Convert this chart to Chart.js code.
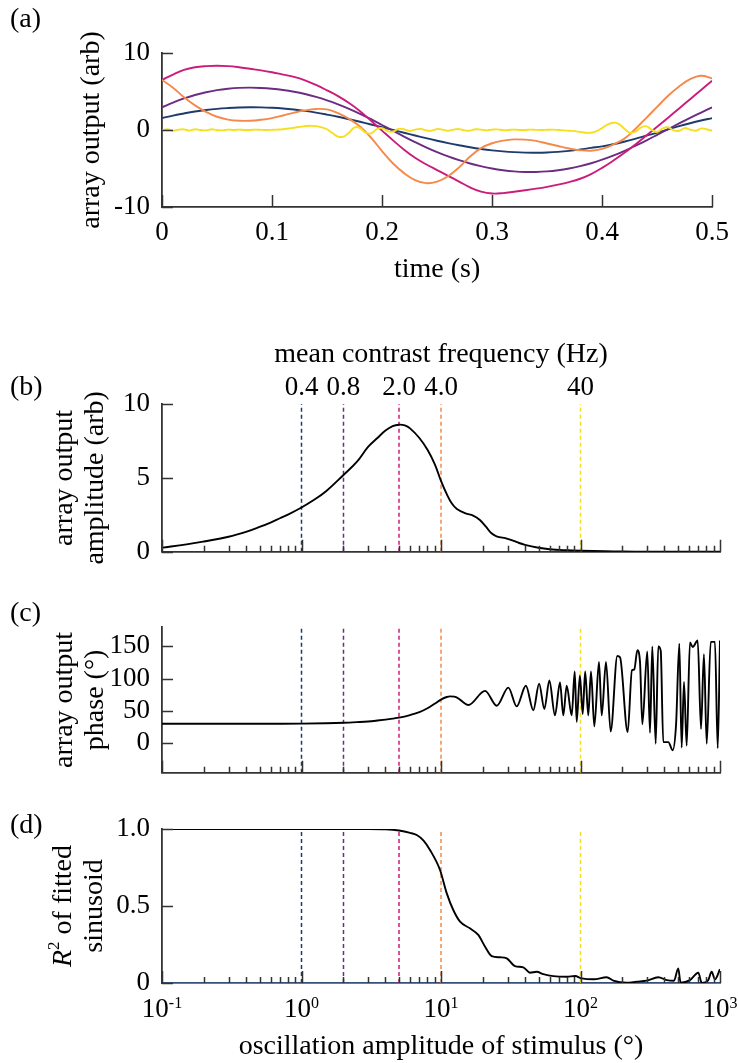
<!DOCTYPE html>
<html lang="en">
  <head>
    <meta charset="UTF-8" />
    <title>Array output vs oscillation amplitude</title>
    <style>
      * {
        margin: 0;
        padding: 0;
      }
      body {
        background: #fff;
        width: 739px;
        height: 1063px;
        position: relative;
        overflow: hidden;
        font-family: "Liberation Serif", "Times New Roman", serif;
      }
      canvas {
        position: absolute;
        left: 0;
      }
      .tag {
        position: absolute;
        left: 10px;
        font-size: 28px;
        line-height: 28px;
        color: #000;
        z-index: 2;
      }
    </style>
  </head>
  <body>
    <div class="tag" style="top: 4px">(a)</div>
    <div class="tag" style="top: 372px">(b)</div>
    <div class="tag" style="top: 598px">(c)</div>
    <div class="tag" style="top: 810px">(d)</div>

    <canvas id="chartA" width="739" height="290" style="top: 0"></canvas>
    <canvas id="chartB" width="739" height="250" style="top: 330px"></canvas>
    <canvas id="chartC" width="739" height="211" style="top: 590px"></canvas>
    <canvas id="chartD" width="739" height="263" style="top: 800px"></canvas>

    <script src="https://cdn.jsdelivr.net/npm/chart.js"></script>

    <script>
      // ---- data: panel (a), array output over one stimulus period ----
      const timeS = [
        0, 0.01, 0.02, 0.03, 0.04, 0.05, 0.06, 0.07, 0.08, 0.09, 0.1, 0.11,
        0.12, 0.13, 0.14, 0.15, 0.16, 0.17, 0.18, 0.19, 0.2, 0.21, 0.22, 0.23,
        0.24, 0.25, 0.26, 0.27, 0.28, 0.29, 0.3, 0.31, 0.32, 0.33, 0.34, 0.35,
        0.36, 0.37, 0.38, 0.39, 0.4, 0.41, 0.42, 0.43, 0.44, 0.45, 0.46, 0.47,
        0.48, 0.49, 0.5
      ];
      const navyOut = [
        1.55, 1.87, 2.15, 2.4, 2.6, 2.75, 2.85, 2.92, 2.95, 2.94, 2.89, 2.8,
        2.66, 2.48, 2.26, 2.0, 1.72, 1.4, 1.07, 0.72, 0.36, 0.0, -0.36, -0.72,
        -1.06, -1.39, -1.7, -1.98, -2.24, -2.46, -2.64, -2.78, -2.88, -2.94,
        -2.95, -2.92, -2.84, -2.71, -2.53, -2.32, -2.12, -1.85, -1.52, -1.15,
        -0.75, -0.35, 0.08, 0.5, 0.88, 1.23, 1.55
      ];
      const purpleOut = [
        2.95, 3.55, 4.1, 4.55, 4.9, 5.18, 5.36, 5.47, 5.5, 5.46, 5.36, 5.2,
        4.97, 4.67, 4.3, 3.85, 3.33, 2.75, 2.1, 1.4, 0.65, -0.1, -0.85, -1.57,
        -2.25, -2.87, -3.43, -3.92, -4.35, -4.7, -5.0, -5.22, -5.37, -5.45,
        -5.45, -5.38, -5.23, -5.0, -4.7, -4.32, -3.86, -3.33, -2.73, -2.07,
        -1.37, -0.63, 0.12, 0.85, 1.57, 2.27, 2.95
      ];
      const magentaOut = [
        6.5, 7.2, 7.8, 8.15, 8.3, 8.35, 8.3, 8.15, 7.95, 7.75, 7.5, 7.2, 6.9,
        6.45, 5.85, 5.15, 4.4, 3.5, 2.45, 1.2, -0.08, -1.35, -2.55, -3.6,
        -4.45, -5.2, -5.95, -6.7, -7.45, -8.0, -8.25, -8.2, -8.02, -7.83,
        -7.62, -7.38, -7.1, -6.76, -6.33, -5.72, -4.92, -4.0, -3.0, -1.9, -0.75,
        0.42, 1.6, 2.8, 4.0, 5.2, 6.4
      ];
      const orangeOut = [
        6.5, 5.5, 4.25, 3.2, 2.35, 1.72, 1.35, 1.2, 1.2, 1.33, 1.55, 1.88,
        2.25, 2.55, 2.73, 2.68, 2.2, 1.45, 0.45, -1.0, -2.75, -4.35, -5.6,
        -6.5, -6.9, -6.7, -6.0, -4.85, -3.45, -2.35, -1.72, -1.38, -1.22,
        -1.25, -1.42, -1.75, -2.08, -2.4, -2.63, -2.7, -2.45, -1.9, -1.15, 0.1,
        1.55, 3.0, 4.45, 5.65, 6.6, 7.05, 6.7
      ];
      const yellowTime = [
        0, 0.005, 0.01, 0.015, 0.02, 0.025, 0.03, 0.035, 0.04, 0.045, 0.05,
        0.055, 0.06, 0.065, 0.07, 0.075, 0.08, 0.085, 0.09, 0.095, 0.1, 0.105,
        0.11, 0.115, 0.12, 0.125, 0.13, 0.135, 0.14, 0.145, 0.15, 0.155, 0.16,
        0.165, 0.17, 0.175, 0.18, 0.185, 0.19, 0.195, 0.2, 0.205, 0.21, 0.215,
        0.22, 0.225, 0.23, 0.235, 0.24, 0.245, 0.25, 0.255, 0.26, 0.265, 0.27,
        0.275, 0.28, 0.285, 0.29, 0.295, 0.3, 0.305, 0.31, 0.315, 0.32, 0.325,
        0.33, 0.335, 0.34, 0.345, 0.35, 0.355, 0.36, 0.365, 0.37, 0.375, 0.38,
        0.385, 0.39, 0.395, 0.4, 0.405, 0.41, 0.415, 0.42, 0.425, 0.43, 0.435,
        0.44, 0.445, 0.45, 0.455, 0.46, 0.465, 0.47, 0.475, 0.48, 0.485, 0.49,
        0.495, 0.5
      ];
      const yellowOut = [
        -0.05, 0.1, -0.1, 0.05, 0.08, -0.08, 0.1, 0.0, -0.05, 0.1, 0.0, -0.05,
        0.05, 0.0, 0.05, 0.0, 0.0, 0.05, 0.02, 0.0, 0.02, 0.05, 0.1, 0.2, 0.3,
        0.4, 0.5, 0.55, 0.5, 0.35, 0.1, -0.4, -0.85, -0.85, -0.35, 0.35, 0.25,
        -0.35, -0.45, 0.1, 0.25, -0.15, -0.2, 0.15, 0.1, -0.15, 0.05, 0.15,
        -0.05, -0.1, 0.12, 0.05, -0.1, 0.05, 0.12, -0.05, -0.08, 0.1, 0.05,
        -0.05, 0.05, 0.08, -0.02, 0.0, 0.05, 0.0, 0.0, 0.05, 0.02, 0.0, 0.03,
        0.05, 0.0, -0.05, -0.1, -0.15, -0.25, -0.35, -0.35, -0.15, 0.25, 0.7,
        0.95, 0.8, 0.2, -0.35, -0.25, 0.3, 0.5, 0.05, -0.25, 0.2, 0.35, -0.05,
        -0.1, 0.25, 0.05, -0.1, 0.2, 0.1, -0.1
      ];

      // ---- data: panels (b)-(d), against oscillation amplitude (deg) ----
      const ampX = [
        0.1, 0.15, 0.2, 0.3, 0.4, 0.5, 0.6, 0.7, 0.8, 1, 1.2, 1.5, 2, 2.5, 3,
        3.5, 4, 4.5, 5, 5.5, 6, 7, 8, 9, 10, 11, 12, 13, 15, 17, 19, 21, 23,
        25, 30, 35, 40, 50, 60, 80, 100, 150, 200, 300, 500, 1000
      ];
      const ampY = [
        0.28, 0.5, 0.7, 1.02, 1.35, 1.68, 1.98, 2.27, 2.52, 3.0, 3.45, 4.1,
        5.2, 6.1, 7.1, 7.7, 8.2, 8.5, 8.6, 8.55, 8.35, 7.7, 6.9, 5.95, 4.8,
        3.9, 3.25, 2.9, 2.6, 2.45, 2.15, 1.7, 1.25, 1.05, 0.88, 0.65, 0.47,
        0.27, 0.17, 0.1, 0.07, 0.04, 0.02, 0.01, 0.0, 0.0
      ];

      const phaseX = [
        0.1, 0.2, 0.3, 0.5, 0.7, 1, 1.5, 2, 2.5, 3, 3.5, 4, 4.5, 5, 6, 7, 8,
        9, 10, 11, 11.6, 12.5, 13.5, 14.5, 15.7, 20.7, 25.1, 30.4, 34.9, 40.6,
        45.9, 50.5, 55.1, 59.8, 65.6, 71.3, 75.3, 79.6, 86.5, 90.9, 93.9, 99,
        103.7, 108, 113.7, 118.9, 125.6, 135.7, 141.9, 152.3, 164.5, 183.6,
        192, 217.8, 233.8, 243, 255.5, 267, 277.5, 301, 315, 327, 346, 361,
        376, 392, 426, 458, 484, 511, 531, 552, 577, 609, 637, 692, 731, 767,
        803, 858, 920, 963, 1000
      ];
      const phaseY = [
        30, 30, 30, 30, 30.1, 30.3, 30.8, 31.5, 32.5, 33.5, 35, 36.5, 38,
        39.5, 43.5, 48, 54, 61, 67.5, 71.5, 72.5, 72, 68.5, 63, 59, 81, 58, 86,
        57, 89, 51, 92, 53, 97, 43, 94, 43, 89, 43, 111, 33, 105, 45, 111, 43,
        111, 26, 126, 43, 126, 18, 135, 133, 17, 113, 114, 144, 126, 29, 142,
        16, 150, -1, 150, 143, 1.5, 1.5, -11, 28, 154, -7, 95, -4, 156, 149,
        159, 22, 138, -1, 157, 157, -8, 159
      ];

      const r2X = [
        0.1, 0.5, 1, 2, 3, 4, 5, 6, 6.7, 7.5, 8.34, 9.84, 11, 12.25, 13.7,
        16.1, 18.5, 20.7, 23.1, 26.5, 29.6, 33.9, 38.9, 43.4, 48.5, 54.1, 63.8,
        79.6, 91.4, 102, 124, 154, 172, 214, 253, 298, 361, 415, 468, 502, 522,
        609, 699, 740, 824, 871, 920, 1000
      ];
      const r2Y = [
        1, 1, 1, 1, 1, 0.998, 0.99, 0.975, 0.961, 0.925, 0.864, 0.734, 0.582,
        0.474, 0.398, 0.355, 0.312, 0.236, 0.175, 0.167, 0.16, 0.11, 0.102,
        0.067, 0.073, 0.058, 0.045, 0.041, 0.045, 0.03, 0.024, 0.037, 0.015,
        0.002, 0.009, 0.015, 0.037, 0.019, 0.015, 0.095, 0.002, 0.019, 0.067,
        0.0, 0.019, 0.073, 0.024, 0.089
      ];

      // stimulus amplitudes picked out in (a), and their contrast frequencies
      const markerAmps = [1, 2, 5, 10, 100];
      const freqLabels = ["0.4", "0.8", "2.0", "4.0", "40"];
      const markerColors = ["#1f3b6c", "#6b2d82", "#cb1c7b", "#f5894a", "#f6df1f"];

      const ticksC = [0, 50, 100, 150];
      const ticksDLabels = ["0", "0.5", "1.0"];
      const decades = [-1, 0, 1, 2, 3];

      // ---- shared styles ----
      const FAMILY = '"Liberation Serif", "Times New Roman", serif';
      Chart.defaults.font.family = FAMILY;
      const tickFont = { family: FAMILY, size: 27 };
      const titleFont = { family: FAMILY, size: 28, lineHeight: 1.1 };
      const axisBorder = { color: "#333", width: 1.8 };
      const noGrid = { display: false, drawTicks: false };

      // smooth: bezier with tension, otherwise monotone cubic
      function series(xs, ys, color, smooth) {
        const ds = {
          data: xs.map((x, i) => ({ x: x, y: ys[i] })),
          borderColor: color,
          borderWidth: 1.9,
          pointRadius: 0,
          fill: false,
          xAxisID: "x",
          yAxisID: "y"
        };
        if (smooth) ds.tension = 0.4;
        else ds.cubicInterpolationMode = "monotone";
        return ds;
      }

      function markers(y0, y1) {
        return markerAmps.map((a, i) => ({
          data: [
            { x: a, y: y0 },
            { x: a, y: y1 }
          ],
          borderColor: markerColors[i],
          borderWidth: 1.5,
          borderDash: [4, 3],
          pointRadius: 0,
          xAxisID: "x",
          yAxisID: "y"
        }));
      }

      function logTicks(scale) {
        const list = [];
        decades.forEach((e) => {
          for (let m = 1; m <= 9; m++) {
            const v = m * Math.pow(10, e);
            if (v > 1000) break;
            list.push({ value: v, major: m === 1 });
          }
        });
        scale.ticks = list;
      }

      function yAxis(min, max, text, padTop, extra) {
        return Object.assign(
          {
            min: min,
            max: max,
            grid: noGrid,
            border: axisBorder,
            ticks: { font: tickFont, color: "#000", padding: 12 },
            title: {
              display: true,
              text: text,
              font: titleFont,
              color: "#000",
              padding: { top: padTop, bottom: 0 }
            },
            afterFit: (s) => {
              s.width = 162;
            }
          },
          extra || {}
        );
      }

      function logXAxis(height, extra) {
        return Object.assign(
          {
            type: "logarithmic",
            min: 0.1,
            max: 1000,
            grid: noGrid,
            border: axisBorder,
            ticks: { display: false },
            afterBuildTicks: logTicks,
            afterFit: (s) => {
              s.height = height;
            }
          },
          extra || {}
        );
      }

      // inward tick marks, MATLAB style
      const tickMarks = {
        id: "tickMarks",
        afterDraw: (chart, args, opts) => {
          const { ctx, chartArea: a } = chart;
          const xs = chart.scales.x;
          const ys = chart.scales.y;
          ctx.save();
          ctx.strokeStyle = "#333";
          ctx.lineWidth = 1.5;
          ctx.beginPath();
          xs.ticks.forEach((t) => {
            const px = Math.round(xs.getPixelForValue(t.value)) + 0.5;
            const len = xs.type === "logarithmic" && !t.major ? opts.minor : opts.x;
            ctx.moveTo(px, a.bottom);
            ctx.lineTo(px, a.bottom - len);
          });
          ys.ticks.forEach((t) => {
            const py = Math.round(ys.getPixelForValue(t.value)) + 0.5;
            ctx.moveTo(a.left, py);
            ctx.lineTo(a.left + opts.y, py);
          });
          ctx.stroke();
          ctx.restore();
        }
      };

      // 10^n labels with a raised exponent
      const powerLabels = {
        id: "powerLabels",
        afterDraw: (chart) => {
          const { ctx, chartArea: a } = chart;
          const xs = chart.scales.x;
          ctx.save();
          ctx.fillStyle = "#000";
          ctx.textBaseline = "alphabetic";
          ctx.textAlign = "left";
          decades.forEach((e) => {
            const px = xs.getPixelForValue(Math.pow(10, e));
            ctx.font = "27px " + FAMILY;
            const w1 = ctx.measureText("10").width;
            ctx.font = "16px " + FAMILY;
            const w2 = ctx.measureText(String(e)).width;
            const x0 = px - (w1 + w2) / 2;
            ctx.font = "27px " + FAMILY;
            ctx.fillText("10", x0, a.bottom + 34);
            ctx.font = "16px " + FAMILY;
            ctx.fillText(String(e), x0 + w1, a.bottom + 25);
          });
          ctx.restore();
        }
      };

      // y title of (d) with italic R and superscript 2
      const rSquaredTitle = {
        id: "rSquaredTitle",
        afterDraw: (chart) => {
          const { ctx, chartArea: a } = chart;
          const cy = (a.top + a.bottom) / 2;
          const parts = [
            ["italic 28px " + FAMILY, "R", 0],
            ["17px " + FAMILY, "2", -9],
            ["28px " + FAMILY, " of fitted", 0]
          ];
          ctx.save();
          ctx.fillStyle = "#000";
          ctx.textBaseline = "middle";
          ctx.translate(64, cy);
          ctx.rotate(-Math.PI / 2);
          let total = 0;
          parts.forEach((p) => {
            ctx.font = p[0];
            total += ctx.measureText(p[1]).width;
          });
          let x = -total / 2;
          ctx.textAlign = "left";
          parts.forEach((p) => {
            ctx.font = p[0];
            ctx.fillText(p[1], x, p[2]);
            x += ctx.measureText(p[1]).width;
          });
          ctx.font = "28px " + FAMILY;
          ctx.textAlign = "center";
          ctx.fillText("sinusoid", 0, 31);
          ctx.restore();
        }
      };

      const basePlugins = {
        legend: { display: false },
        tooltip: { enabled: false },
        tickMarks: { x: 12, y: 11, minor: 6 }
      };

      // ---- (a) ----
      new Chart(document.getElementById("chartA"), {
        type: "line",
        data: {
          datasets: [
            series(yellowTime, yellowOut, markerColors[4], true),
            series(timeS, orangeOut, markerColors[3], true),
            series(timeS, magentaOut, markerColors[2], true),
            series(timeS, purpleOut, markerColors[1], true),
            series(timeS, navyOut, markerColors[0], true)
          ]
        },
        options: {
          responsive: false,
          animation: false,
          layout: { padding: { top: 53, right: 19, left: 0, bottom: 0 } },
          scales: {
            x: {
              type: "linear",
              min: 0,
              max: 0.5,
              grid: noGrid,
              border: axisBorder,
              ticks: { stepSize: 0.1, font: tickFont, color: "#000", padding: 10, maxRotation: 0 },
              title: {
                display: true,
                text: "time (s)",
                font: titleFont,
                color: "#000",
                padding: { top: 0, bottom: 5 }
              },
              afterFit: (s) => {
                s.height = 83;
              }
            },
            y: yAxis(-10, 10, "array output (arb)", 76, {
              ticks: { stepSize: 10, font: tickFont, color: "#000", padding: 12 }
            })
          },
          plugins: basePlugins
        },
        plugins: [tickMarks]
      });

      // ---- (b) ----
      new Chart(document.getElementById("chartB"), {
        type: "line",
        data: {
          datasets: [series(ampX, ampY, "#000", true)].concat(markers(0, 10))
        },
        options: {
          responsive: false,
          animation: false,
          layout: { padding: { top: 0, right: 19, left: 0, bottom: 0 } },
          scales: {
            x: logXAxis(20),
            x2: {
              type: "logarithmic",
              position: "top",
              min: 0.1,
              max: 1000,
              grid: noGrid,
              border: { display: false },
              afterBuildTicks: (s) => {
                s.ticks = markerAmps.map((v) => ({ value: v }));
              },
              ticks: {
                callback: (v, i) => freqLabels[i],
                autoSkip: false,
                maxRotation: 0,
                padding: 0,
                font: tickFont,
                color: "#000"
              },
              title: {
                display: true,
                text: "mean contrast frequency (Hz)",
                font: titleFont,
                color: "#000",
                padding: { top: 9, bottom: 0 }
              },
              afterFit: (s) => {
                s.height = 74;
              }
            },
            y: yAxis(0, 10, ["array output", "amplitude (arb)"], 49, {
              ticks: { stepSize: 5, font: tickFont, color: "#000", padding: 12 }
            })
          },
          plugins: basePlugins
        },
        plugins: [tickMarks]
      });

      // ---- (c) ----
      new Chart(document.getElementById("chartC"), {
        type: "line",
        data: {
          datasets: [series(phaseX, phaseY, "#000", false)].concat(markers(-46, 180))
        },
        options: {
          responsive: false,
          animation: false,
          layout: { padding: { top: 37, right: 19, left: 0, bottom: 0 } },
          scales: {
            x: logXAxis(20),
            y: yAxis(-46, 180, ["array output", "phase (\u00b0)"], 49, {
              afterBuildTicks: (s) => {
                s.ticks = ticksC.map((v) => ({ value: v }));
              }
            })
          },
          plugins: basePlugins
        },
        plugins: [tickMarks]
      });

      // ---- (d) ----
      new Chart(document.getElementById("chartD"), {
        type: "line",
        data: {
          datasets: [series(r2X, r2Y, "#000", false)].concat(markers(0, 1))
        },
        options: {
          responsive: false,
          animation: false,
          layout: { padding: { top: 29, right: 19, left: 0, bottom: 0 } },
          scales: {
            x: logXAxis(80, {
              border: { color: "#34507a", width: 1.8 },
              title: {
                display: true,
                text: "oscillation amplitude of stimulus (\u00b0)",
                font: titleFont,
                color: "#000",
                padding: { top: 0, bottom: 1 }
              }
            }),
            y: yAxis(0, 1, "", 0, {
              title: { display: false },
              ticks: {
                stepSize: 0.5,
                font: tickFont,
                color: "#000",
                padding: 12,
                callback: (v, i) => ticksDLabels[i]
              }
            })
          },
          plugins: basePlugins
        },
        plugins: [tickMarks, powerLabels, rSquaredTitle]
      });
    </script>
  </body>
</html>
